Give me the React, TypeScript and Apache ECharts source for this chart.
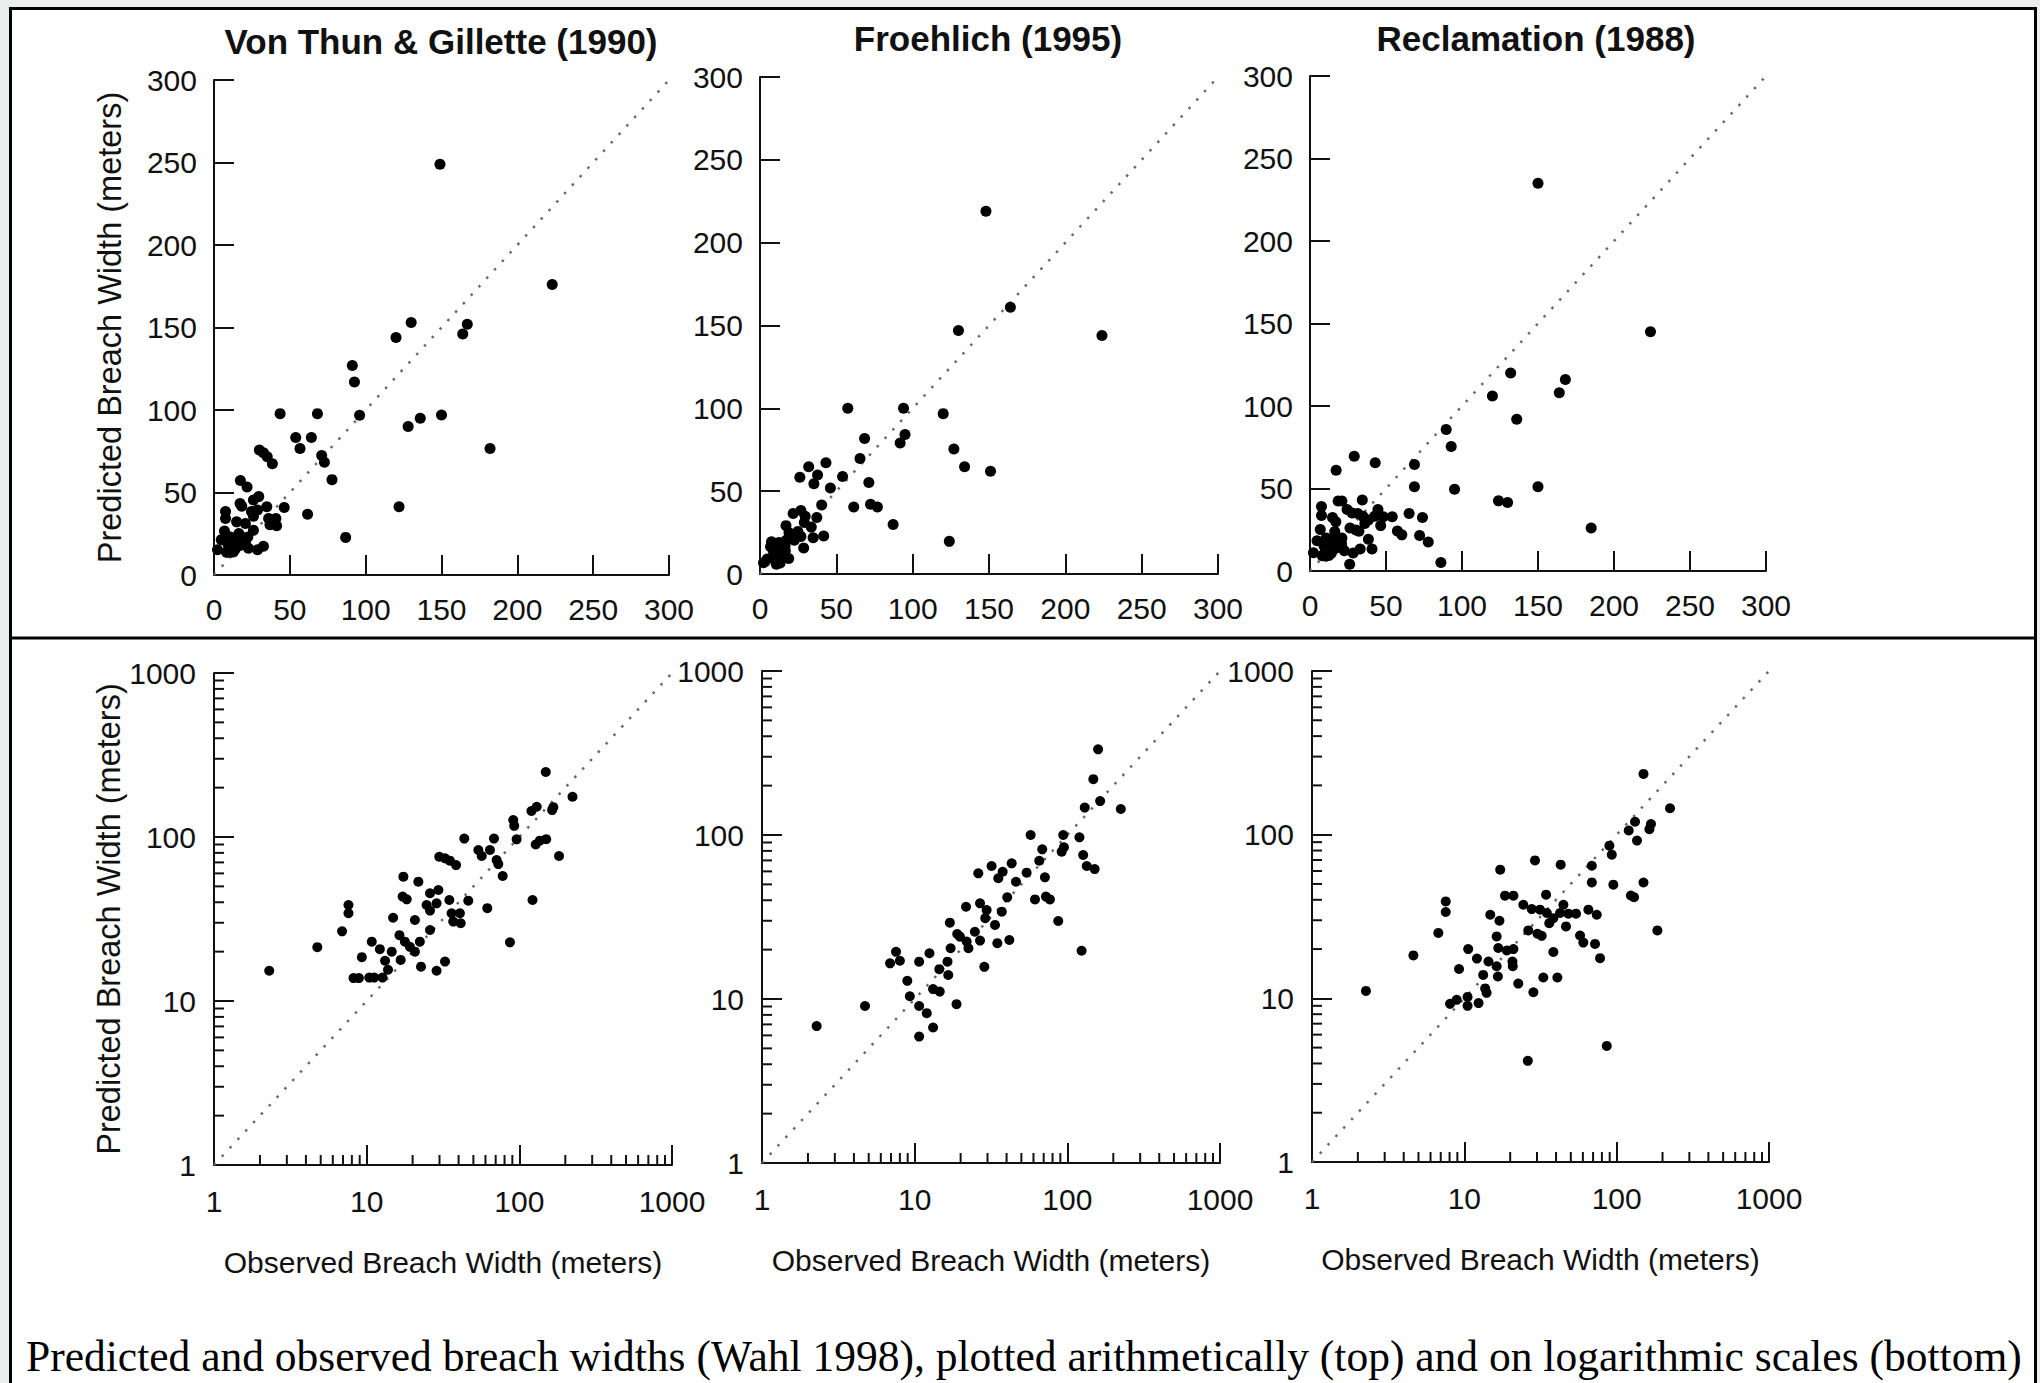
import React, { useEffect, useRef } from "react";
import * as echarts from "echarts";

// ---------- text ----------
const methodTitles = ["Von Thun & Gillette (1990)", "Froehlich (1995)", "Reclamation (1988)"];
const yAxisTitle = "Predicted Breach Width (meters)";
const xAxisTitle = "Observed Breach Width (meters)";
const caption =
  "Predicted and observed breach widths (Wahl 1998), plotted arithmetically (top) and on logarithmic scales (bottom)";

// ---------- axes ----------
const linearRange = [0, 300];
const linearInterval = 50;
const logRange = [1, 1000];
const logTickLabels = ["1", "10", "100", "1000"];
const logMinorTicks = [2, 3, 4, 5, 6, 7, 8, 9, 20, 30, 40, 50, 60, 70, 80, 90, 200, 300, 400, 500, 600, 700, 800, 900];

// ---------- data: Von Thun & Gillette (1990) ----------
const vtObserved = [
  2.3, 4.75, 6.9, 7.6, 7.6, 8.2, 8.9, 9.3, 10.4, 11.2, 10.8, 12.2, 12.7, 13.2, 13.8, 14.6, 14.9, 16.4, 16.7, 17.4,
  17.2, 18.3, 17.8, 19.2, 20.7, 20.7, 21.8, 22.3, 22.7, 24.7, 26, 26, 26, 28.7, 29.5, 28.7, 29.9, 32.6, 35.1, 38.5,
  32.6, 34.8, 36, 36.9, 40.8, 41.3, 43.6, 46.3, 53.9, 56.7, 61.7, 64.2, 68.2, 71, 72.8, 77.8, 86.8, 91.2, 92.6, 96,
  120, 130, 122, 128, 136, 150, 149, 164, 167, 182, 223,
];
const vtPredicted = [
  15.3, 21.3, 26.6, 38.5, 34.3, 13.8, 13.8, 18.5, 13.9, 13.9, 23, 20.7, 13.9, 17.6, 15.5, 20, 32.2, 25.2, 17.8, 57.3,
  43.3, 41.7, 23, 21.4, 31.2, 20, 53.4, 23, 16.2, 38.5, 45.4, 35.6, 27.1, 15.3, 47.5, 39.4, 75.8, 74.1, 71.7, 67.4,
  17.4, 41.3, 34.3, 30.5, 34.3, 29.8, 97.8, 40.9, 83.3, 76.6, 36.8, 83.3, 97.8, 72.4, 68.4, 57.8, 22.8, 127, 117, 96.8,
  144, 153, 41.3, 90, 95, 97, 249, 146, 152, 76.6, 176,
];

// ---------- data: Froehlich (1995) ----------
const frObserved = [
  2.28, 4.73, 6.9, 7.55, 8.0, 8.95, 9.3, 10.7, 10.7, 10.7, 12, 12.5, 13.2, 13.2, 14.6, 14.5, 16.6, 16.4, 17, 17.2,
  18.8, 19, 19.8, 21.7, 21.9, 22.5, 24.8, 26.8, 26.8, 26.1, 28.6, 29.6, 29, 31.9, 33.6, 34.8, 35.3, 37.2, 37.7, 40.4,
  41.7, 43.2, 46.1, 54.1, 57.5, 61.4, 65.5, 68.5, 71.3, 72.4, 76.9, 87.2, 91.8, 95, 94, 120, 124, 127, 134, 151,
  130, 148, 159, 164, 224,
];
const frPredicted = [
  6.84, 9.06, 16.5, 19.4, 17.1, 12.9, 10.4, 16.9, 9.06, 5.9, 8.2, 19, 6.7, 11.5, 11.1, 15.2, 14, 16.9, 29.2, 20.4,
  9.3, 24.9, 24, 36.5, 22.4, 20.4, 25.7, 38.3, 22.7, 58.4, 15.7, 34.9, 31.1, 64.7, 28.3, 21.9, 54.5, 34.1, 59.7, 41.7,
  22.9, 67.2, 51.9, 58.9, 100, 40.5, 69.7, 81.8, 55.2, 42.1, 40.5, 29.9, 79.1, 84.2, 100, 96.8, 19.7, 75.5, 64.7, 62,
  147, 219, 333, 161, 144,
];

// ---------- data: Reclamation (1988) ----------
const rcObserved = [
  2.26, 4.63, 6.75, 7.55, 7.55, 8.06, 8.91, 9.23, 10.5, 10.5, 10.6, 12.1, 12.4, 13.3, 13.7, 14, 14.4, 16.3, 16.3, 16.6,
  14.8, 17, 17.2, 16.7, 18.5, 19, 21, 21, 20.7, 20.8, 22.6, 24.4, 26.3, 26.1, 27.7, 29.1, 28.4, 30.2, 32.2, 31.4,
  33, 34.4, 34.8, 36.1, 38.4, 38.4, 40.8, 42.9, 42.5, 44.7, 46.5, 48.2, 54.1, 57.5, 60.4, 65.2, 68.7, 68.7, 72.1, 74,
  77.8, 86.1, 89.6, 92.9, 95.1, 120, 124, 130, 132, 136, 150, 150, 168, 164, 185, 224,
];
const rcPredicted = [
  11.1, 18.3, 25.1, 39.1, 33.7, 9.25, 9.79, 15.1, 10.2, 9.0, 20, 17.5, 9.35, 13.9, 11.5, 10.8, 16.8, 23.9, 15.7, 13.6,
  32.4, 29.8, 61.1, 20.3, 42.4, 19.6, 42.4, 20, 16.8, 15.7, 12.3, 37.3, 26, 4.15, 35.1, 69.6, 10.9, 24.8, 24.1, 34.8,
  13.4, 43, 33.2, 28.8, 19.2, 30.9, 13.4, 65.6, 33.2, 37.3, 27.5, 32.9, 32.9, 24.2, 21.9, 34.8, 64.6, 51.1, 21.5, 32.4,
  17.6, 5.12, 85.7, 75.5, 49.5, 106, 42.5, 41.5, 120, 92, 235, 51, 116, 108, 26, 145,
];

const methodObserved = [vtObserved, frObserved, rcObserved];
const methodPredicted = [vtPredicted, frPredicted, rcPredicted];

const SANS = '"Liberation Sans", Arial, Helvetica, sans-serif';
const SERIF = '"Liberation Serif", "Times New Roman", Times, serif';
const INK = "#111";

function pairs(xs: number[], ys: number[]) {
  return xs.map((x, i) => [x, ys[i]]);
}

function buildOption() {
  const grids = [
    { left: 214, top: 80, width: 455, height: 495 },
    { left: 760, top: 77, width: 458, height: 497 },
    { left: 1310, top: 76, width: 456, height: 495 },
    { left: 214, top: 673, width: 458, height: 492 },
    { left: 762, top: 671, width: 458, height: 492 },
    { left: 1312, top: 671, width: 457, height: 491 },
  ];

  const axisLine = { show: true, onZero: false, lineStyle: { color: INK, width: 2 } };
  const axisTick = { show: true, inside: true, length: 20, lineStyle: { color: INK, width: 2 } };
  const labelBase = { fontSize: 30, fontFamily: SANS, color: INK };

  const xAxis: any[] = [];
  const yAxis: any[] = [];
  const series: any[] = [];

  for (let i = 0; i < 6; i++) {
    const isLog = i >= 3;
    const m = i % 3;
    const range = isLog ? logRange : linearRange;
    const common: any = isLog
      ? { type: "log", logBase: 10, min: range[0], max: range[1] }
      : { type: "value", min: range[0], max: range[1], interval: linearInterval };
    const fmt = isLog
      ? (v: number) => logTickLabels[Math.round(Math.log10(v))] ?? String(v)
      : (v: number) => String(v);

    xAxis.push({
      ...common,
      gridIndex: i,
      axisLine,
      axisTick,
      splitLine: { show: false },
      axisLabel: { ...labelBase, margin: isLog ? 21 : 19, formatter: fmt },
      ...(isLog
        ? {
            name: xAxisTitle,
            nameLocation: "middle",
            nameGap: 82,
            nameTextStyle: { fontSize: 30, fontFamily: SANS, color: INK },
          }
        : {}),
    });
    yAxis.push({
      ...common,
      gridIndex: i,
      axisLine,
      axisTick,
      splitLine: { show: false },
      axisLabel: { ...labelBase, margin: isLog ? 18 : 17, formatter: fmt },
      ...(m === 0
        ? {
            name: yAxisTitle,
            nameLocation: "middle",
            nameGap: 88,
            nameTextStyle: { fontSize: 32.5, fontFamily: SANS, color: INK },
          }
        : {}),
    });

    // 1:1 reference line
    series.push({
      type: "line",
      xAxisIndex: i,
      yAxisIndex: i,
      data: [
        [range[0], range[0]],
        [range[1], range[1]],
      ],
      symbol: "none",
      silent: true,
      lineStyle: { color: "#6a6a6a", width: 2.5, type: [2.5, 9] },
      z: 2,
    });

    // data points
    series.push({
      type: "scatter",
      xAxisIndex: i,
      yAxisIndex: i,
      data: pairs(methodObserved[m], methodPredicted[m]),
      symbol: "circle",
      symbolSize: isLog ? 10 : 11,
      itemStyle: { color: "#000", opacity: 1 },
      clip: true,
      z: 3,
    });

    if (isLog) {
      // minor log ticks on x axis
      series.push({
        type: "scatter",
        xAxisIndex: i,
        yAxisIndex: i,
        data: logMinorTicks.map((v) => [v, logRange[0]]),
        symbol: "rect",
        symbolSize: [2, 10],
        symbolOffset: [0, -5],
        itemStyle: { color: INK, opacity: 1 },
        clip: false,
        silent: true,
        z: 4,
      });
      // minor log ticks on y axis
      series.push({
        type: "scatter",
        xAxisIndex: i,
        yAxisIndex: i,
        data: logMinorTicks.map((v) => [logRange[0], v]),
        symbol: "rect",
        symbolSize: [10, 2],
        symbolOffset: [5, 0],
        itemStyle: { color: INK, opacity: 1 },
        clip: false,
        silent: true,
        z: 4,
      });
    }
  }

  const titleCenters = [
    [441, 41],
    [988, 38],
    [1536, 38],
  ];

  const graphic: any[] = [
    {
      type: "rect",
      z: -10,
      silent: true,
      shape: { x: 10.5, y: 8.5, width: 2025, height: 1400 },
      style: { fill: "#ffffff", stroke: "#000", lineWidth: 3 },
    },
    {
      type: "line",
      z: -9,
      silent: true,
      shape: { x1: 10, y1: 638, x2: 2036, y2: 638 },
      style: { stroke: "#000", lineWidth: 3 },
    },
    ...methodTitles.map((t, k) => ({
      type: "text",
      x: titleCenters[k][0],
      y: titleCenters[k][1],
      silent: true,
      style: {
        text: t,
        align: "center",
        verticalAlign: "middle",
        font: `bold 35px ${SANS}`,
        fill: INK,
      },
    })),
    {
      type: "text",
      x: 26,
      y: 1356,
      silent: true,
      style: {
        text: caption,
        align: "left",
        verticalAlign: "middle",
        font: `43.5px ${SERIF}`,
        fill: "#000",
      },
    },
  ];

  return {
    animation: false,
    backgroundColor: "#eceeee",
    grid: grids.map((g) => ({ ...g, containLabel: false })),
    xAxis,
    yAxis,
    series,
    graphic: { elements: graphic },
  };
}

export default function App() {
  const ref = useRef<HTMLDivElement>(null);
  useEffect(() => {
    if (!ref.current) return;
    const chart = echarts.init(ref.current, undefined, { renderer: "svg" });
    chart.setOption(buildOption() as any);
    return () => chart.dispose();
  }, []);
  return (
    <div
      ref={ref}
      style={{ position: "absolute", left: 0, top: 0, width: 2040, height: 1383 }}
    />
  );
}
